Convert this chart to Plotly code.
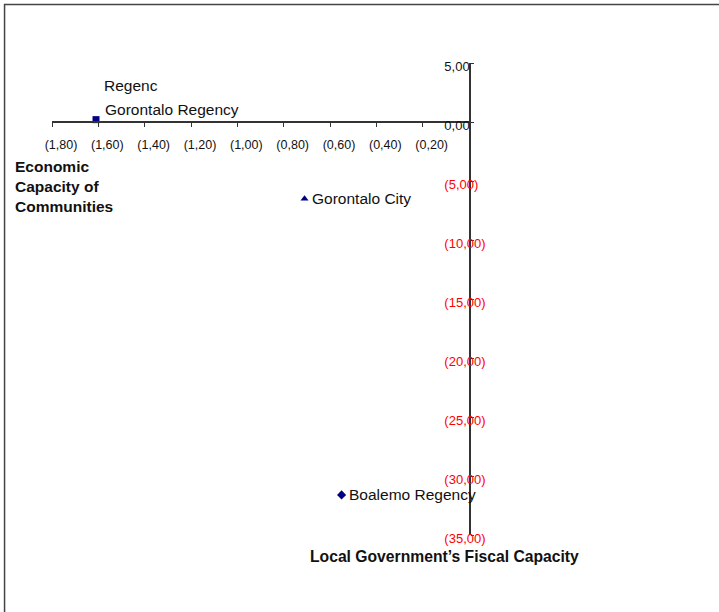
import plotly.graph_objects as go

# --- data -------------------------------------------------------------
regions = ["Gorontalo Regency", "Gorontalo City", "Boalemo Regency"]
economic_capacity = [-1.61, -0.71, -0.55]      # x: Economic Capacity of Communities
fiscal_capacity = [0.2, -6.5, -31.6]           # y: Local Government's Fiscal Capacity
marker_symbols = ["square", "triangle-up", "diamond"]

x_ticks = [-1.8, -1.6, -1.4, -1.2, -1.0, -0.8, -0.6, -0.4, -0.2]
x_tick_labels = ["(1,80)", "(1,60)", "(1,40)", "(1,20)", "(1,00)",
                 "(0,80)", "(0,60)", "(0,40)", "(0,20)"]
y_ticks = [5, 0, -5, -10, -15, -20, -25, -30, -35]
y_tick_labels = ["5,00", "0,00", "(5,00)", "(10,00)", "(15,00)",
                 "(20,00)", "(25,00)", "(30,00)", "(35,00)"]

x_range = [-1.8, 0.0]
y_range = [-35.0, 5.0]

# --- page geometry ----------------------------------------------------
W, H = 719, 612
M_L, M_R, M_T, M_B = 52, 249.5, 63, 77
PW, PH = W - M_L - M_R, H - M_T - M_B


def px_x(px):
    return (px - M_L) / PW


def px_y(py):
    return (H - M_B - py) / PH


FONT = "Arial, 'Liberation Sans', sans-serif"
NAVY = "#000080"
TEXT = "#111111"

fig = go.Figure()
fig.add_trace(go.Scatter(
    x=economic_capacity, y=fiscal_capacity, mode="markers",
    marker=dict(symbol=marker_symbols, size=7, color=NAVY),
    hoverinfo="text", text=regions, showlegend=False,
))

# point labels
label_shift = {"Gorontalo Regency": (7, 10), "Gorontalo City": (5, 0),
               "Boalemo Regency": (5, 0)}
annotations = []
for name, xv, yv in zip(regions, economic_capacity, fiscal_capacity):
    dx, dy = label_shift[name]
    annotations.append(dict(
        x=xv, y=yv, xref="x", yref="y", text=name, showarrow=False,
        xanchor="left", yanchor="middle", xshift=dx, yshift=dy,
        font=dict(family=FONT, size=15.5, color=TEXT),
    ))
# partly hidden label stacked over the Gorontalo Regency point
annotations.append(dict(
    x=economic_capacity[0], y=fiscal_capacity[0], xref="x", yref="y",
    text="Regenc", showarrow=False, xanchor="left", yanchor="middle",
    xshift=6, yshift=34, font=dict(family=FONT, size=15.5, color=TEXT),
))

# axis titles
annotations.append(dict(
    x=px_x(13), y=px_y(156), xref="paper", yref="paper",
    text="<b>Economic<br>Capacity of<br>Communities</b>", showarrow=False,
    xanchor="left", yanchor="top", align="left",
    font=dict(family=FONT, size=15.5, color=TEXT),
))
annotations.append(dict(
    x=px_x(445), y=px_y(556), xref="paper", yref="paper",
    text="<b>Local Government\u2019s Fiscal Capacity</b>", showarrow=False,
    xanchor="center", yanchor="middle",
    font=dict(family=FONT, size=15.7, color=TEXT),
))

# y tick labels: negatives in red
y_text = [lab if v >= 0 else f"<span style='color:red'>{lab}</span>"
          for v, lab in zip(y_ticks, y_tick_labels)]

# x axis crosses the y axis at y = 0
x_axis_pos = (0 - y_range[0]) / (y_range[1] - y_range[0])

fig.update_layout(
    width=W, height=H,
    margin=dict(l=M_L, r=M_R, t=M_T, b=M_B, pad=0),
    paper_bgcolor="white", plot_bgcolor="white",
    font=dict(family=FONT),
    xaxis=dict(
        range=x_range, anchor="free", position=x_axis_pos,
        showgrid=False, zeroline=False, showline=True,
        linecolor="#333333", linewidth=1.5,
        tickmode="array", tickvals=x_ticks, ticktext=x_tick_labels,
        ticks="outside", ticklen=4, tickcolor="#333333",
        tickfont=dict(family=FONT, size=12.5, color=TEXT),
        ticklabelshift=9, ticklabelstandoff=7,
    ),
    yaxis=dict(
        range=y_range, side="right",
        showgrid=False, zeroline=False, showline=True,
        linecolor="#333333", linewidth=1.5,
        tickmode="array", tickvals=y_ticks, ticktext=y_text,
        ticks="outside", ticklen=3, tickcolor="#333333",
        tickfont=dict(family=FONT, size=13, color=TEXT),
        ticklabelposition="outside", ticklabelstandoff=-32,
        ticklabelshift=3,
    ),
    annotations=annotations,
    shapes=[dict(
        type="rect", xref="paper", yref="paper",
        x0=px_x(4.5), x1=px_x(730), y0=px_y(625), y1=px_y(4.5),
        line=dict(color="#444444", width=1.5), fillcolor="rgba(0,0,0,0)",
        layer="below",
    )],
)

fig.write_html("out.html")
